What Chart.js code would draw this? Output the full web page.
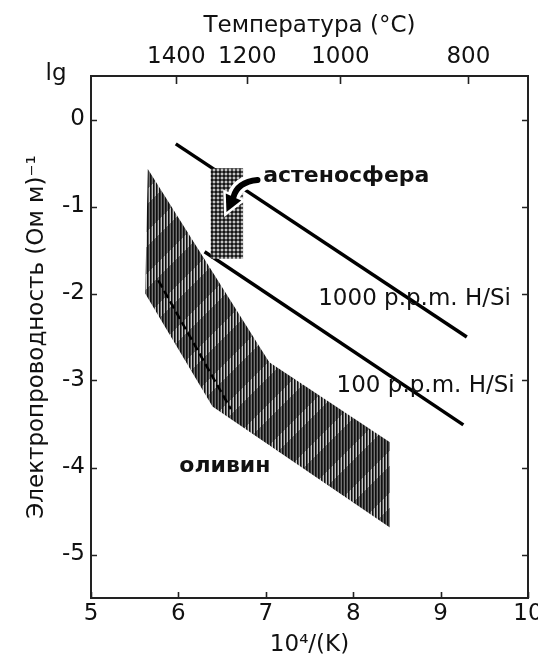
<!DOCTYPE html>
<html>
<head>
<meta charset="utf-8">
<script src="https://cdn.jsdelivr.net/npm/chart.js@4.4.1/dist/chart.umd.min.js"></script>
<style>
  html, body { margin: 0; padding: 0; background: #fff; }
  #wrap { width: 538px; height: 661px; }
</style>
</head>
<body>
<div id="wrap"><canvas id="chart"></canvas></div>
<script>
// ---- Data: x = 10^4/T (K), y = lg sigma ---------------------
// dry olivine field
const bandX = [5.65, 5.62, 6.39, 8.42, 8.42, 7.04, 5.65];
const bandY = [-0.57, -2.0, -3.3, -4.69, -3.71, -2.79, -0.57];
// dry olivine mean curve (dashed)
const olivX = [5.77, 6.6];
const olivY = [-1.85, -3.33];
// hydrous olivine
const h1000X = [5.97, 9.3];
const h1000Y = [-0.28, -2.5];
const h100X  = [6.3, 9.26];
const h100Y  = [-1.52, -3.51];
// asthenosphere range
const asthX = [6.37, 6.74, 6.74, 6.37, 6.37];
const asthY = [-0.56, -0.56, -1.6, -1.6, -0.56];

// ---- Axis ticks ---------------------------------------------
const xTicks    = [5, 6, 7, 8, 9, 10];
const yTicks    = [-5, -4, -3, -2, -1, 0];
const tempTicks = [1400, 1200, 1000, 800];   // deg C on the top axis

// ---- Text labels (left x, baseline y in data units) --------
const labels = [
  { text: "астеносфера",       x: 6.97, y: -0.72, bold: true },
  { text: "1000 p.p.m. H/Si",  x: 7.60, y: -2.13 },
  { text: "100 p.p.m. H/Si",   x: 7.81, y: -3.13 },
  { text: "оливин",            x: 6.01, y: -4.05, bold: true },
];
const arrowFrom = { x: 6.905, y: -0.695 };
const arrowTo   = { x: 6.55,  y: -1.063 };

const FONT = "'DejaVu Sans', sans-serif";
Chart.defaults.font.family = FONT;
Chart.defaults.font.size = 23;
Chart.defaults.color = "#111";

const pts = (xs, ys) => xs.map((x, i) => ({ x, y: ys[i] }));

// grey-level tile -> repeating canvas pattern
function makePattern(size, shade) {
  const c = document.createElement("canvas");
  c.width = c.height = size;
  const g = c.getContext("2d");
  const img = g.createImageData(size, size);
  for (let py = 0; py < size; py++) {
    for (let px = 0; px < size; px++) {
      const v = shade(px, py);
      const k = (py * size + px) * 4;
      img.data[k] = img.data[k + 1] = img.data[k + 2] = v;
      img.data[k + 3] = 255;
    }
  }
  g.putImageData(img, 0, 0);
  return g.createPattern(c, "repeat");
}

// vertical hatching over diagonal light / dark stripes
const bandFill = makePattern(42, (px, py) => {
  const base = (px + py) % 42 < 15 ? 200 : 115;
  const col = px % 3;
  return col === 0 ? 15 : col === 1 ? Math.round(base * 0.45) : base;
});
// halftone dots
const asthFill = makePattern(4, (px, py) => {
  const d = Math.hypot(px - 1.5, py - 1.5);
  return d < 1 ? 195 : d < 1.6 ? 75 : 20;
});

// ---- Inward ticks, arrow, labels ----------------------------
const overlay = {
  id: "overlay",
  afterDatasetsDraw(chart) {
    const { ctx, chartArea: a, scales } = chart;
    const { x, y, xTop } = scales;
    ctx.save();

    ctx.strokeStyle = "#222";
    ctx.lineWidth = 1.6;
    ctx.beginPath();
    xTicks.forEach(v => {
      const px = Math.round(x.getPixelForValue(v)) + 0.5;
      ctx.moveTo(px, a.bottom); ctx.lineTo(px, a.bottom - 6);
    });
    xTop.ticks.forEach(t => {
      const px = Math.round(xTop.getPixelForValue(t.value)) + 0.5;
      ctx.moveTo(px, a.top); ctx.lineTo(px, a.top + 8);
    });
    yTicks.forEach(v => {
      const py = Math.round(y.getPixelForValue(v)) + 0.5;
      ctx.moveTo(a.left, py); ctx.lineTo(a.left + 6, py);
      ctx.moveTo(a.right, py); ctx.lineTo(a.right - 6, py);
    });
    ctx.stroke();

    // curved arrow pointing into the asthenosphere box
    const t0 = { x: x.getPixelForValue(arrowFrom.x), y: y.getPixelForValue(arrowFrom.y) };
    const t1 = { x: x.getPixelForValue(arrowTo.x),   y: y.getPixelForValue(arrowTo.y) };
    const neck = { x: t1.x + 7, y: t1.y - 15 };
    const ctrl = { x: neck.x + 4, y: t0.y + 2 };
    const dx = t1.x - neck.x, dy = t1.y - neck.y, len = Math.hypot(dx, dy);
    const nx = -dy / len * 8.5, ny = dx / len * 8.5;
    const shaft = () => {
      ctx.beginPath();
      ctx.moveTo(t0.x, t0.y);
      ctx.quadraticCurveTo(ctrl.x, ctrl.y, neck.x, neck.y);
    };
    const head = () => {
      ctx.beginPath();
      ctx.moveTo(t1.x, t1.y);
      ctx.lineTo(neck.x + nx, neck.y + ny);
      ctx.lineTo(neck.x - nx, neck.y - ny);
      ctx.closePath();
    };
    ctx.lineCap = "round";
    ctx.strokeStyle = "#fff";
    ctx.lineWidth = 13; shaft(); ctx.stroke();
    ctx.lineWidth = 5;  head();  ctx.stroke();
    ctx.strokeStyle = "#000";
    ctx.lineWidth = 6;  shaft(); ctx.stroke();
    ctx.fillStyle = "#000"; head(); ctx.fill();

    // text
    ctx.fillStyle = "#111";
    ctx.textBaseline = "alphabetic";
    ctx.textAlign = "left";
    labels.forEach(l => {
      ctx.font = (l.bold ? "bold 22px " : "23px ") + FONT;
      ctx.fillText(l.text, x.getPixelForValue(l.x), y.getPixelForValue(l.y));
    });
    ctx.font = "23px " + FONT;
    ctx.textAlign = "center";
    ctx.textBaseline = "middle";
    ctx.fillText("lg", a.left - 35, a.top - 2);

    ctx.restore();
  }
};

const axisBorder = { display: true, color: "#222", width: 2 };
const noGrid = { display: false, drawTicks: false };
const clearPad = s => { s.paddingLeft = s.paddingRight = s.paddingTop = s.paddingBottom = 0; };

new Chart(document.getElementById("chart"), {
  type: "scatter",
  data: {
    datasets: [
      {
        data: pts(asthX, asthY), showLine: true, fill: "shape",
        backgroundColor: asthFill, borderWidth: 0, pointRadius: 0, order: 1,
      },
      {
        data: pts(h1000X, h1000Y), showLine: true, borderColor: "#000",
        borderWidth: 3.5, pointRadius: 0, order: 2,
      },
      {
        data: pts(h100X, h100Y), showLine: true, borderColor: "#000",
        borderWidth: 3.5, pointRadius: 0, order: 3,
      },
      {
        data: pts(olivX, olivY), showLine: true, borderColor: "#000",
        borderWidth: 2.5, borderDash: [8, 4], pointRadius: 0, order: 4,
      },
      {
        data: pts(bandX, bandY), showLine: true, fill: "shape",
        backgroundColor: bandFill, borderWidth: 0, pointRadius: 0, order: 5,
      },
    ],
  },
  options: {
    responsive: true,
    maintainAspectRatio: false,
    animation: false,
    events: [],
    layout: { padding: 0, autoPadding: false },
    plugins: { legend: { display: false }, tooltip: { enabled: false } },
    scales: {
      x: {
        type: "linear", position: "bottom", min: 5, max: 10,
        grid: noGrid, border: axisBorder,
        afterBuildTicks: s => { s.ticks = xTicks.map(v => ({ value: v })); },
        ticks: { autoSkip: false, maxRotation: 0, padding: 2 },
        title: { display: true, text: "10⁴/(K)", padding: { top: 0, bottom: 2 } },
        afterFit: s => { s.height = 63; clearPad(s); },
      },
      xTop: {
        type: "linear", position: "top", min: 5, max: 10,
        grid: noGrid, border: axisBorder,
        afterBuildTicks: s => { s.ticks = tempTicks.map(t => ({ value: 1e4 / (t + 273.15) })); },
        ticks: { autoSkip: false, maxRotation: 0, padding: 5, callback: (v, i) => tempTicks[i] },
        title: { display: true, text: "Температура (°C)", padding: { top: 12, bottom: 0 } },
        afterFit: s => { s.height = 76; clearPad(s); },
      },
      y: {
        type: "linear", position: "left", min: -5.5, max: 0.5,
        grid: noGrid, border: axisBorder,
        afterBuildTicks: s => { s.ticks = yTicks.map(v => ({ value: v })); },
        ticks: { autoSkip: false, padding: 6 },
        title: { display: true, text: "Электропроводность (Ом м)⁻¹", padding: { top: 23, bottom: 0 } },
        afterFit: s => { s.width = 91; clearPad(s); },
      },
      y2: {
        type: "linear", position: "right", min: -5.5, max: 0.5, display: true,
        grid: noGrid, border: axisBorder,
        ticks: { display: false },
        afterFit: s => { s.width = 10; clearPad(s); },
      },
    },
  },
  plugins: [overlay],
});
</script>
</body>
</html>
